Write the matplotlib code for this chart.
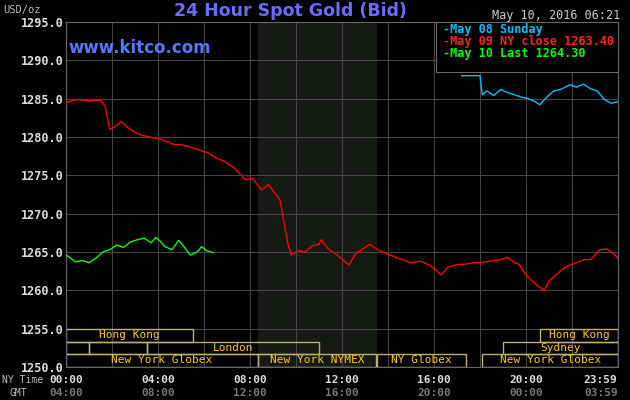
import matplotlib
matplotlib.use("Agg")
import matplotlib.pyplot as plt
from matplotlib.patches import Rectangle

red_h = [0,0.5,1.0,1.5,1.7,1.9,2.1,2.4,2.7,3.0,3.2,3.6,4.0,4.4,4.7,5.0,5.4,5.8,6.2,6.5,6.9,7.3,7.8,8.1,8.5,8.8,9.0,9.3,9.5,9.65,9.8,10.1,10.4,10.7,11.0,11.1,11.4,11.8,12.1,12.3,12.6,13.0,13.2,13.6,14.1,14.5,15.0,15.4,15.8,16.1,16.3,16.6,16.9,17.3,17.7,18.0,18.4,18.9,19.2,19.5,19.7,19.9,20.2,20.5,20.8,21.0,21.3,21.6,21.9,22.2,22.5,22.8,23.0,23.2,23.5,23.8,24.0]
red_v = [1284.5,1284.9,1284.7,1284.8,1284.0,1281.0,1281.3,1282.0,1281.2,1280.6,1280.3,1280.0,1279.8,1279.4,1279.0,1279.0,1278.7,1278.3,1277.9,1277.3,1276.8,1276.0,1274.4,1274.6,1273.1,1273.8,1273.0,1271.8,1268.5,1266.0,1264.6,1265.2,1265.0,1265.8,1266.0,1266.6,1265.4,1264.6,1263.8,1263.3,1264.8,1265.6,1266.0,1265.2,1264.6,1264.1,1263.6,1263.8,1263.3,1262.6,1262.0,1263.0,1263.3,1263.4,1263.6,1263.6,1263.8,1264.0,1264.3,1263.6,1263.4,1262.4,1261.4,1260.6,1260.0,1261.2,1262.0,1262.8,1263.3,1263.6,1264.0,1264.0,1264.6,1265.3,1265.4,1264.8,1264.2]
green_h = [0,0.2,0.4,0.7,1.0,1.3,1.6,1.9,2.2,2.5,2.8,3.1,3.4,3.7,3.9,4.1,4.3,4.6,4.9,5.1,5.4,5.7,5.9,6.1,6.4]
green_v = [1264.6,1264.2,1263.7,1263.9,1263.6,1264.2,1265.0,1265.3,1265.9,1265.6,1266.3,1266.6,1266.8,1266.2,1266.9,1266.4,1265.7,1265.3,1266.5,1265.8,1264.6,1265.0,1265.7,1265.2,1264.9]
blue_h = [17.2,17.6,18.0,18.1,18.3,18.6,18.9,19.2,19.5,19.8,20.1,20.4,20.6,20.9,21.2,21.5,21.9,22.2,22.5,22.8,23.1,23.4,23.7,24.0]
blue_v = [1288.0,1288.0,1288.0,1285.5,1286.0,1285.4,1286.2,1285.8,1285.5,1285.2,1285.0,1284.6,1284.2,1285.2,1286.0,1286.2,1286.8,1286.5,1286.9,1286.3,1286.0,1284.9,1284.4,1284.6]

y_ticks = [1250,1255,1260,1265,1270,1275,1280,1285,1290,1295]
x_ticks = [0,4,8,12,16,20,23.983]
ny_labels = ["00:00","04:00","08:00","12:00","16:00","20:00","23:59"]
gmt_labels = ["04:00","08:00","12:00","16:00","20:00","00:00","03:59"]
# (row, start, end, label)
sessions = [(0,0,5.5,"Hong Kong"),(0,20.6,24,"Hong Kong"),
            (1,0,1.0,""),(1,1.0,3.5,""),(1,3.5,11.0,"London"),(1,19.0,24,"Sydney"),
            (2,0,8.35,"New York Globex"),(2,8.35,13.5,"New York NYMEX"),(2,13.5,17.4,"NY Globex"),(2,18.1,24,"New York Globex")]

fig = plt.figure(figsize=(6.3,4.0), dpi=100, facecolor="black")
ax = fig.add_axes([66/630, 1-367/400, 552/630, 345/400], facecolor="black")
ax.set_xlim(0,24); ax.set_ylim(1250,1295)
mono = "DejaVu Sans Mono"
ax.axvspan(8.35,13.5,color="#151a15",zorder=0)
for h in range(2,24,2):
    ax.axvline(h,color="#444444",lw=0.8,zorder=1)
for v in y_ticks[1:-1]:
    ax.axhline(v,color="#444444",lw=0.8,zorder=1)
rows = [(1253.3,1255.0),(1251.7,1253.3),(1250.0,1251.7)]
for r,s,e,l in sessions:
    lo,hi = rows[r]
    ax.add_patch(Rectangle((s,lo),e-s,hi-lo,fill=False,ec="#b8b070",lw=1,zorder=2))
    if l:
        ax.text((s+e)/2,(lo+hi)/2,l,color="#ffcc00",fontsize=8,family=mono,ha="center",va="center",zorder=3)
ax.plot(red_h,red_v,color="#ff0000",lw=1,zorder=4)
ax.plot(green_h,green_v,color="#00ff00",lw=1,zorder=4)
ax.plot(blue_h,blue_v,color="#00bfff",lw=1,zorder=4)
for s in ax.spines.values(): s.set_color("#666666")
ax.set_yticks(y_ticks)
ax.set_yticklabels([f"{v:.1f}" for v in y_ticks],color="#dddddd",fontsize=8.5,family=mono,fontweight="bold")
ax.set_xticks(x_ticks)
ax.set_xticklabels(ny_labels,color="#dddddd",fontsize=8,family=mono,fontweight="bold")
ax.get_xticklabels()[-1].set_horizontalalignment("right")
ax.get_xticklabels()[-1].set_x(24.0)
ax.tick_params(axis="x",length=0,pad=6)
ax.tick_params(axis="y",length=0,pad=2)
for i,(x,l) in enumerate(zip(x_ticks,gmt_labels)):
    ax.text(24.0 if i==6 else x,-0.076,l,transform=ax.get_xaxis_transform(),color="#777777",fontsize=8,family=mono,fontweight="bold",ha="right" if i==6 else "center",va="center")
fig.text(2/630,1-380/400,"NY Time",color="#bbbbbb",fontsize=7,family=mono,va="center")
fig.text(10/630,1-393/400,"GMT",color="#bbbbbb",fontsize=7,family=mono,va="center")
fig.text(3/630,1-10/400,"USD/oz",color="#bbbbbb",fontsize=7.5,family=mono,va="center")
fig.text(290/630,1-11/400,"24 Hour Spot Gold (Bid)",color="#6b6bff",fontsize=12.5,fontweight="bold",ha="center",va="center")
fig.text(68/630,1-48/400,"www.kitco.com",color="#5577ff",fontsize=12,fontweight="bold",va="center")
fig.text(620/630,1-15/400,"May 10, 2016 06:21",color="#cccccc",fontsize=8.5,family=mono,ha="right",va="center")
ax.add_patch(Rectangle((0.671,0.855),0.329,0.145,transform=ax.transAxes,fc="black",ec="#666666",lw=0.8,zorder=5))
leg = [("-May 08 Sunday","#00bfff"),("-May 09 NY close 1263.40","#ff2020"),("-May 10 Last 1264.30","#00ff00")]
for i,(t,c) in enumerate(leg):
    fig.text(443/630,1-(29+12*i)/400,t,color=c,fontsize=8.5,family=mono,fontweight="bold",va="center",zorder=6)
fig.savefig("out.png",dpi=100,facecolor="black")
